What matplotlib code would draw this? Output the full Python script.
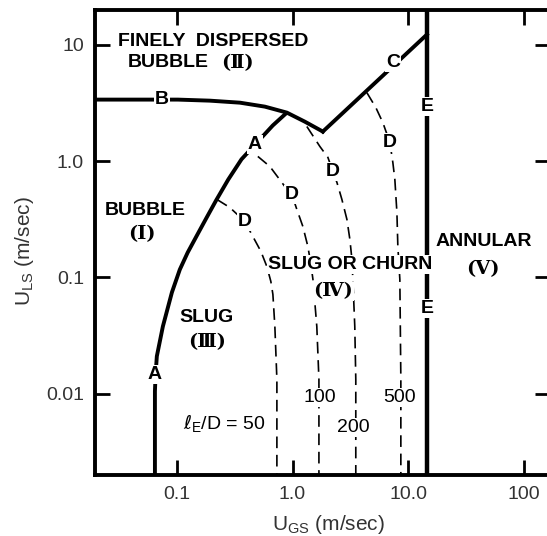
import matplotlib
matplotlib.use("Agg")
import matplotlib.pyplot as plt

plt.rcParams['font.family'] = ['Liberation Sans', 'DejaVu Sans']

# boundary A (bubble / slug)
a_x = [0.0646, 0.0646, 0.0655, 0.0671, 0.0757, 0.0906, 0.106, 0.124, 0.149, 0.180, 0.219, 0.278, 0.362, 0.512, 0.674, 0.893]
a_y = [0.002, 0.0105, 0.0147, 0.0210, 0.0380, 0.0745, 0.117, 0.164, 0.230, 0.325, 0.463, 0.696, 1.04, 1.51, 2.03, 2.62]
# boundary B (dispersed bubble)
b_x = [0.0196, 0.102, 0.193, 0.351, 0.576, 0.893, 1.277, 1.827]
b_y = [3.39, 3.39, 3.32, 3.19, 2.95, 2.62, 2.19, 1.80]
# boundary C
c_x = [1.827, 14.5]
c_y = [1.80, 12.3]
# boundary E (annular)
e_x = 14.5

# curves D for l_E/D = 50, 100, 200, 500
d50_x = [0.222, 0.287, 0.387, 0.454, 0.532, 0.600, 0.649, 0.676, 0.703, 0.732, 0.732]
d50_y = [0.469, 0.400, 0.303, 0.225, 0.168, 0.124, 0.0925, 0.0716, 0.0380, 0.0133, 0.002]
d100_x = [0.501, 0.637, 0.858, 0.986, 1.089, 1.227, 1.356, 1.44, 1.50, 1.62, 1.69, 1.69]
d100_y = [1.10, 0.901, 0.606, 0.518, 0.385, 0.275, 0.185, 0.130, 0.0964, 0.0380, 0.0133, 0.002]
d200_x = [1.329, 1.722, 2.02, 2.23, 2.42, 2.67, 2.95, 3.13, 3.26, 3.32, 3.45, 3.52, 3.52]
d200_y = [1.99, 1.34, 1.08, 0.816, 0.656, 0.469, 0.316, 0.212, 0.143, 0.0964, 0.0380, 0.0133, 0.002]
d500_x = [4.39, 5.25, 6.03, 6.94, 7.36, 7.66, 7.98, 8.13, 8.46, 8.63, 8.63]
d500_y = [3.89, 2.89, 2.15, 1.45, 0.975, 0.696, 0.362, 0.185, 0.0964, 0.0133, 0.002]

xticks = [0.1, 1.0, 10.0, 100]
xtick_labels = ['0.1', '1.0', '10.0', '100']
yticks = [0.01, 0.1, 1.0, 10]
ytick_labels = ['0.01', '0.1', '1.0', '10']

fig = plt.figure(figsize=(5.47, 5.36), dpi=100)
ax = fig.add_axes([95/547, 1-475/536, 455/547, 465/536])
ax.set_xscale('log')
ax.set_yscale('log')
ax.set_xlim(0.0196, 168)
ax.set_ylim(0.002, 20)

lw = 2.8
ax.plot(a_x, a_y, color='black', lw=lw, solid_capstyle='butt')
ax.plot(b_x, b_y, color='black', lw=lw)
ax.plot(c_x, c_y, color='black', lw=lw)
ax.plot([e_x, e_x], [0.002, 20], color='black', lw=3.2)

for dx, dy in [(d50_x, d50_y), (d100_x, d100_y), (d200_x, d200_y), (d500_x, d500_y)]:
    ax.plot(dx, dy, color='black', lw=1.2, dashes=(7, 4))

box = dict(facecolor='white', edgecolor='none', pad=0.5)
lab = dict(fontsize=14, ha='center', va='center', fontweight='bold', bbox=box, zorder=5)
ax.text(0.0646, 0.0147, 'A', **lab)
ax.text(0.472, 1.39, 'A', **lab)
ax.text(0.0742, 3.39, 'B', **lab)
ax.text(7.36, 7.05, 'C', **lab)
ax.text(0.387, 0.303, 'D', **lab)
ax.text(0.986, 0.518, 'D', **lab)
ax.text(2.23, 0.816, 'D', **lab)
ax.text(6.94, 1.45, 'D', **lab)
ax.text(e_x, 2.95, 'E', **lab)
ax.text(e_x, 0.054, 'E', **lab)

reg = dict(fontsize=14, va='center', fontweight='bold')
rom = dict(fontsize=14, va='center', ha='center', fontweight='bold',
           family=['DejaVu Serif', 'DejaVu Sans'])
ax.text(0.031, 10.7, 'FINELY  DISPERSED', ha='left', **reg)
ax.text(0.0377, 7.05, 'BUBBLE', ha='left', **reg)
ax.text(0.337, 7.05, '(\u2161)', **rom)
ax.text(0.0529, 0.377, 'BUBBLE', ha='center', **reg)
ax.text(0.0498, 0.235, '(\u2160)', **rom)
ax.text(0.182, 0.0454, 'SLUG', ha='center', **reg)
ax.text(0.182, 0.0277, '(\u2162)', **rom)
ax.text(3.13, 0.130, 'SLUG OR CHURN', ha='center', bbox=box, zorder=5, **reg)
ax.text(2.23, 0.076, '(\u2163)', bbox=box, zorder=5, **rom)
ax.text(45.0, 0.204, 'ANNULAR', ha='center', **reg)
ax.text(44.1, 0.117, '(\u2164)', **rom)

num = dict(fontsize=14, va='center', bbox=box, zorder=5)
ax.text(0.113, 0.00546, r'$\ell_{\mathregular{E}}$/D = 50', ha='left', **num)
ax.text(1.72, 0.00933, '100', ha='center', **num)
ax.text(3.32, 0.00515, '200', ha='center', **num)
ax.text(8.46, 0.00933, '500', ha='center', **num)

ax.set_xticks(xticks)
ax.set_xticklabels(xtick_labels)
ax.set_yticks(yticks)
ax.set_yticklabels(ytick_labels)
ax.minorticks_off()
ax.tick_params(which='major', direction='in', length=11, width=2, top=True, right=True,
               labelsize=14, pad=8, colors='black')
ax.tick_params(axis='x', labelcolor='#333333')
ax.tick_params(axis='y', labelcolor='#333333')
for s in ax.spines.values():
    s.set_linewidth(2.8)

fig.text(329/547, 1-525/536, r'U$_{\mathregular{GS}}$ (m/sec)', ha='center', va='center',
         fontsize=15, color='#333333')
fig.text(25/547, 1-251/536, r'U$_{\mathregular{LS}}$ (m/sec)', ha='center', va='center',
         rotation=90, fontsize=15, color='#333333')

fig.savefig('out.png', dpi=100, facecolor='white')
